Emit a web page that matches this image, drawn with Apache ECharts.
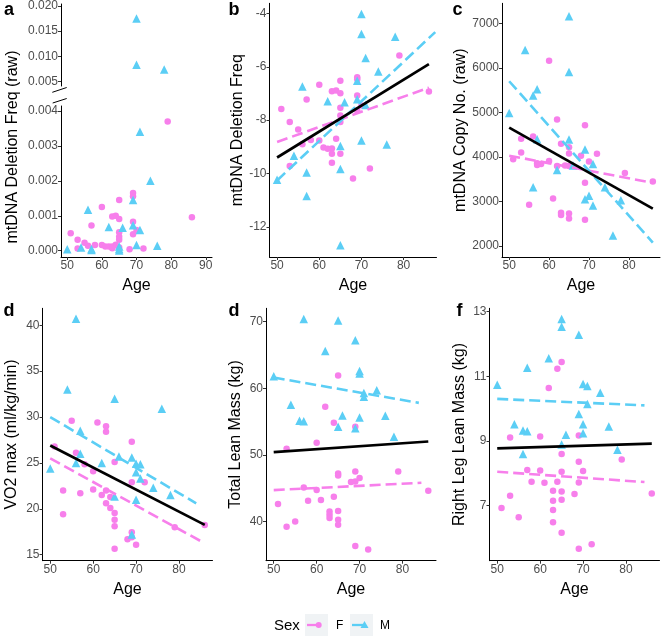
<!DOCTYPE html>
<html><head><meta charset="utf-8">
<script src="https://cdn.jsdelivr.net/npm/echarts@6/dist/echarts.min.js"></script>
<style>html,body{margin:0;padding:0;background:#fff}#c{width:661px;height:637px}</style>
</head><body><div id="c"></div>
<script>
// ---------- tick labels ----------
const ageTicks = [50, 60, 70, 80];
const ageTicksA = [50, 60, 70, 80, 90];
const aTicksUpper = [0.005, 0.010, 0.015, 0.020];
const aTicksLower = [0, 0.001, 0.002, 0.003, 0.004];
const bTicks = [-12, -10, -8, -6, -4];
const cTicks = [2000, 3000, 4000, 5000, 6000, 7000];
const dTicks = [15, 20, 25, 30, 35, 40];
const eTicks = [40, 50, 60, 70];
const fTicks = [7, 9, 11, 13];

// ---------- panel a: raw deletion freq [age, value] ----------
const aF = [[79,0.00370],[86,0.00096],[60,0.00125],[65,0.00145],[63,0.00098],[64,0.00100],[65,0.00091],[69,0.00165],[69,0.00156],[69,0.00083],[57,0.00072],[51,0.00050],[65,0.00053],[69,0.00047],[70,0.00059],[65,0.00040],[65,0.00031],[53,0.00031],[55,0.00023],[56,0.00014],[58,0.00016],[64,0.00017],[60,0.00016],[61,0.00012],[62,0.00012],[63,0.00012],[63,0.00009],[65,0.00009],[63,0.00007],[53,0.00006],[72,0.00006],[68,0.00004]];
const aM = [[70,0.0175],[70,0.0083],[78,0.0074],[71,0.0034],[74,0.0020],[69,0.00145],[56,0.00117],[62,0.00068],[66,0.00066],[69,0.00073],[71,0.00059],[70,0.00016],[76,0.00014],[65,0.00012],[54,0.00009],[65,0.00005],[57,0.00005],[50,0.00004],[57,0.00002],[65,0.000003]];

// ---------- panel b: log deletion freq ----------
const bF = [[79,-5.58],[86,-6.93],[60,-6.67],[65,-6.52],[63,-6.92],[64,-6.89],[65,-6.99],[69,-6.39],[69,-6.47],[69,-7.08],[57,-7.23],[51,-7.58],[65,-7.54],[69,-7.64],[70,-7.45],[65,-7.83],[65,-8.07],[53,-8.07],[55,-8.35],[56,-8.9],[58,-8.74],[64,-8.7],[60,-8.76],[61,-9.03],[62,-9.07],[63,-9.06],[63,-9.26],[65,-9.26],[63,-9.6],[53,-9.72],[72,-9.81],[68,-10.19]];
const bM = [[70,-4.02],[70,-4.77],[78,-4.87],[71,-5.67],[74,-6.18],[69,-6.52],[56,-6.74],[62,-7.29],[66,-7.33],[69,-7.22],[71,-7.43],[70,-8.76],[76,-8.91],[65,-8.97],[54,-9.33],[65,-9.83],[57,-9.96],[50,-10.23],[57,-10.84],[65,-12.69]];
const bLineAll = [[50,-9.4],[86,-5.9]];
const bLineF = [[50,-8.82],[86,-6.78]];
const bLineM = [[50,-10.26],[87.5,-4.7]];

// ---------- panel c: copy number ----------
const cF = [[60,6160],[62,4840],[69,4710],[56,4460],[53,4410],[63,4300],[65,4220],[65,4080],[53,4100],[72,4070],[51,3950],[57,3860],[58,3840],[60,3910],[64,3810],[65,3800],[68,4030],[70,3900],[69,3420],[79,3640],[86,3450],[61,3070],[55,2930],[63,2750],[63,2700],[65,2730],[65,2620],[69,2590],[57,3820],[62,3800]];
const cM = [[65,7160],[54,6400],[65,5910],[57,5520],[56,5380],[50,4990],[57,4400],[65,4390],[69,4170],[62,3710],[71,3840],[66,3810],[56,3320],[70,3130],[69,3050],[71,2910],[74,3320],[78,3030],[76,2240]];
const cLineAll = [[50,4660],[86,2840]];
const cLineF = [[50,4030],[86,3420]];
const cLineM = [[50,5700],[86,2080]];

// ---------- panel d: VO2 max ----------
const dF = [[55,29.6],[61,29.4],[63,29.0],[63,28.4],[69,27.3],[56,26.1],[65,25.1],[51,26.8],[60,24.1],[58,24.85],[69,22.9],[72,22.9],[53,22.0],[57,21.7],[60,22.1],[62,21.5],[63,22.0],[64,21.3],[63,20.6],[64,20.1],[65,19.55],[65,18.8],[65,18.1],[65,15.65],[53,19.4],[69,17.45],[69,16.9],[68,16.7],[70,16.1],[79,18.0],[86,18.25]];
const dM = [[56,40.7],[54,33.0],[65,32.0],[76,30.9],[57,28.5],[57,26.0],[56,25.0],[50,24.4],[62,25.0],[69,25.6],[66,25.7],[70,24.9],[71,24.85],[70,24.0],[71,23.3],[74,22.3],[78,21.5],[65,21.35],[70,21.0],[69,17.2]];
const dLineAll = [[50,26.9],[86,18.25]];
const dLineF = [[50,25.5],[85,16.5]];
const dLineM = [[50,30.0],[84,20.6]];

// ---------- panel e: total lean mass ----------
const eF = [[65,61.9],[62,57.2],[64,54.8],[69,54.2],[60,51.8],[53,50.9],[65,47.2],[65,46.9],[69,47.5],[79,47.5],[70,46.5],[68,45.9],[69,46.0],[57,45.1],[86,44.6],[60,44.7],[64,43.7],[61,43.2],[58,43.1],[51,42.6],[63,41.5],[63,41.0],[63,40.5],[65,41.55],[65,40.25],[65,39.5],[55,40.0],[53,39.2],[69,36.3],[72,35.8]];
const eM = [[57,70.4],[65,70.15],[69,67.2],[62,65.6],[70,62.6],[70,62.2],[50,61.8],[74,59.7],[71,59.3],[71,58.7],[54,57.5],[66,55.9],[76,55.85],[70,55.6],[56,55.1],[57,55.05],[65,54.2],[69,54.0],[78,52.7]];
const eLineAll = [[50,50.4],[86,52.0]];
const eLineF = [[50,44.7],[84.4,45.8]];
const eLineM = [[50,61.6],[83.8,57.8]];

// ---------- panel f: right leg lean mass ----------
const fF = [[65,11.44],[64,11.23],[62,10.64],[53,9.11],[60,9.14],[69,9.17],[65,8.6],[79,8.43],[69,8.36],[57,8.1],[60,8.09],[70,8.07],[65,8.05],[58,7.74],[61,7.71],[64,7.74],[69,7.72],[63,7.46],[65,7.44],[68,7.36],[86,7.38],[53,7.31],[63,7.15],[65,7.18],[51,6.93],[63,6.87],[55,6.64],[63,6.49],[65,6.16],[72,5.81],[69,5.67]];
const fM = [[65,12.77],[65,12.53],[69,12.28],[62,11.56],[57,11.26],[50,10.74],[70,10.76],[71,10.7],[74,10.49],[71,10.14],[69,9.83],[54,9.52],[70,9.52],[76,9.45],[56,9.32],[57,9.3],[70,9.24],[66,9.19],[65,8.89],[56,8.6],[78,8.73]];
const fLineAll = [[50,8.77],[86,8.92]];
const fLineF = [[50,8.05],[84.3,7.73]];
const fLineM = [[50,10.3],[84.3,10.1]];

// ---------- styling ----------
const PINK = '#F77FEB', CYAN = '#5BCEF5';
const FONT = '"Liberation Sans", Arial, sans-serif';

const grids = [
  {left: 61, top: 4, width: 151, height: 82},          // 0 a upper
  {left: 61, top: 106, width: 151, height: 151},       // 1 a lower
  {left: 269.5, top: 3.3, width: 167, height: 253.7},  // 2 b
  {left: 502, top: 3.3, width: 158, height: 253.7},    // 3 c
  {left: 42.5, top: 308.3, width: 170, height: 252.4}, // 4 d
  {left: 266, top: 308.3, width: 170, height: 252.4},  // 5 e
  {left: 489.5, top: 308.3, width: 170, height: 252.4} // 6 f
];

function xAx(gi, min, max, ticks, show) {
  return {
    type: 'value', gridIndex: gi, min: min, max: max, show: show,
    name: 'Age', nameLocation: 'middle', nameGap: 21,
    nameTextStyle: {fontSize: 16, color: '#000', fontFamily: FONT},
    axisLine: {show: true, onZero: false, lineStyle: {color: '#000', width: 1}},
    axisTick: {show: true, length: 3, customValues: ticks, lineStyle: {color: '#333', width: 1}},
    axisLabel: {customValues: ticks, fontSize: 12, color: '#4d4d4d', margin: 3, fontFamily: FONT},
    splitLine: {show: false}
  };
}
function yAx(gi, min, max, ticks, name, gap, fmt) {
  return {
    type: 'value', gridIndex: gi, min: min, max: max,
    name: name, nameLocation: 'middle', nameGap: gap,
    nameTextStyle: {fontSize: 16, color: '#000', fontFamily: FONT},
    axisLine: {show: true, onZero: false, lineStyle: {color: '#000', width: 1}},
    axisTick: {show: true, length: 3, customValues: ticks, lineStyle: {color: '#333', width: 1}},
    axisLabel: {customValues: ticks, fontSize: 12, color: '#4d4d4d', margin: 3, fontFamily: FONT,
                formatter: fmt || (v => String(v))},
    splitLine: {show: false}
  };
}

const xAxes = [
  xAx(0, 48.2, 91.8, ageTicksA, false),
  xAx(1, 48.2, 91.8, ageTicksA, true),
  xAx(2, 48.2, 87.8, ageTicks, true),
  xAx(3, 48.2, 87.8, ageTicks, true),
  xAx(4, 48.2, 87.8, ageTicks, true),
  xAx(5, 48.2, 87.8, ageTicks, true),
  xAx(6, 48.2, 87.8, ageTicks, true)
];
const f3 = v => v.toFixed(3);
const yAxes = [
  yAx(0, 0.0041, 0.0204, aTicksUpper, '', 0, f3),
  yAx(1, -0.00018, 0.00414, aTicksLower, '', 0, f3),
  yAx(2, -13.13, -3.62, bTicks, 'mtDNA Deletion Freq', 20),
  yAx(3, 1755, 7450, cTicks, 'mtDNA Copy No. (raw)', 31),
  yAx(4, 14.35, 41.85, dTicks, 'VO2 max (ml/kg/min)', 23),
  yAx(5, 34.1, 72.0, eTicks, 'Total Lean Mass (kg)', 22),
  yAx(6, 5.3, 13.1, fTicks, 'Right Leg Lean Mass (kg)', 22)
];

const series = [];
function pts(idx, data, sex) {
  series.push({
    type: 'scatter', xAxisIndex: idx, yAxisIndex: idx, data: data,
    symbol: sex === 'F' ? 'circle' : 'triangle',
    symbolSize: sex === 'F' ? 6.5 : 8.5,
    itemStyle: {color: sex === 'F' ? PINK : CYAN, opacity: 1},
    silent: true, z: 2
  });
}
function line(idx, data, kind) {
  const color = kind === 'all' ? '#000' : (kind === 'F' ? PINK : CYAN);
  series.push({
    type: 'line', xAxisIndex: idx, yAxisIndex: idx, data: data,
    symbol: 'none', silent: true, z: kind === 'all' ? 5 : 4,
    lineStyle: {color: color, width: kind === 'all' ? 2.7 : 2.6, type: kind === 'all' ? 'solid' : [11, 5]}
  });
}
// panel a split into upper/lower sections of the broken axis
pts(0, aF.filter(p => p[1] >= 0.0045), 'F');
pts(0, aM.filter(p => p[1] >= 0.0045), 'M');
pts(1, aF.filter(p => p[1] < 0.0045), 'F');
pts(1, aM.filter(p => p[1] < 0.0045), 'M');

const panels = [
  [2, bF, bM, bLineAll, bLineF, bLineM],
  [3, cF, cM, cLineAll, cLineF, cLineM],
  [4, dF, dM, dLineAll, dLineF, dLineM],
  [5, eF, eM, eLineAll, eLineF, eLineM],
  [6, fF, fM, fLineAll, fLineF, fLineM]
];
panels.forEach(p => {
  pts(p[0], p[1], 'F');
  pts(p[0], p[2], 'M');
  line(p[0], p[4], 'F');
  line(p[0], p[5], 'M');
  line(p[0], p[3], 'all');
});

function txt(x, y, s, size, opts) {
  opts = opts || {};
  return {
    type: 'text', x: x, y: y, rotation: opts.rot || 0, silent: true,
    style: {text: s, fill: '#000', font: (opts.bold ? 'bold ' : '') + size + 'px ' + FONT,
            textAlign: opts.align || 'center', align: opts.align || 'center',
            textVerticalAlign: 'middle', verticalAlign: 'middle'}
  };
}
const graphics = [
  txt(9, 10, 'a', 18, {bold: true}),
  txt(234, 10, 'b', 18, {bold: true}),
  txt(457.5, 10, 'c', 18, {bold: true}),
  txt(9, 311.5, 'd', 18, {bold: true}),
  txt(234, 311.5, 'd', 18, {bold: true}),
  txt(459.5, 311.5, 'f', 18, {bold: true}),
  txt(13, 147, 'mtDNA Deletion Freq (raw)', 16, {rot: Math.PI / 2}),
  {type: 'line', silent: true, shape: {x1: 52.3, y1: 92.3, x2: 66.7, y2: 87.5}, style: {stroke: '#000', lineWidth: 1}},
  {type: 'line', silent: true, shape: {x1: 52.7, y1: 103, x2: 66.7, y2: 98.5}, style: {stroke: '#000', lineWidth: 1}},
  // legend
  txt(274, 625.5, 'Sex', 15, {align: 'left'}),
  {type: 'rect', silent: true, shape: {x: 305, y: 614, width: 23, height: 22}, style: {fill: '#F0F3F5'}},
  {type: 'line', silent: true, shape: {x1: 307, y1: 625, x2: 318, y2: 625}, style: {stroke: PINK, lineWidth: 2.3}},
  {type: 'circle', silent: true, shape: {cx: 318.7, cy: 625, r: 3}, style: {fill: PINK}},
  txt(336, 625.5, 'F', 12, {align: 'left'}),
  {type: 'rect', silent: true, shape: {x: 350, y: 614, width: 23, height: 22}, style: {fill: '#F0F3F5'}},
  {type: 'line', silent: true, shape: {x1: 352, y1: 625, x2: 363, y2: 625}, style: {stroke: CYAN, lineWidth: 2.3}},
  {type: 'polygon', silent: true, shape: {points: [[364.5, 621], [368.5, 628], [360.5, 628]]}, style: {fill: CYAN}},
  txt(380, 625.5, 'M', 12, {align: 'left'})
];

const chart = echarts.init(document.getElementById('c'), null, {renderer: 'canvas'});
chart.setOption({
  animation: false,
  backgroundColor: '#fff',
  grid: grids,
  xAxis: xAxes,
  yAxis: yAxes,
  series: series,
  graphic: {elements: graphics}
});
</script></body></html>
